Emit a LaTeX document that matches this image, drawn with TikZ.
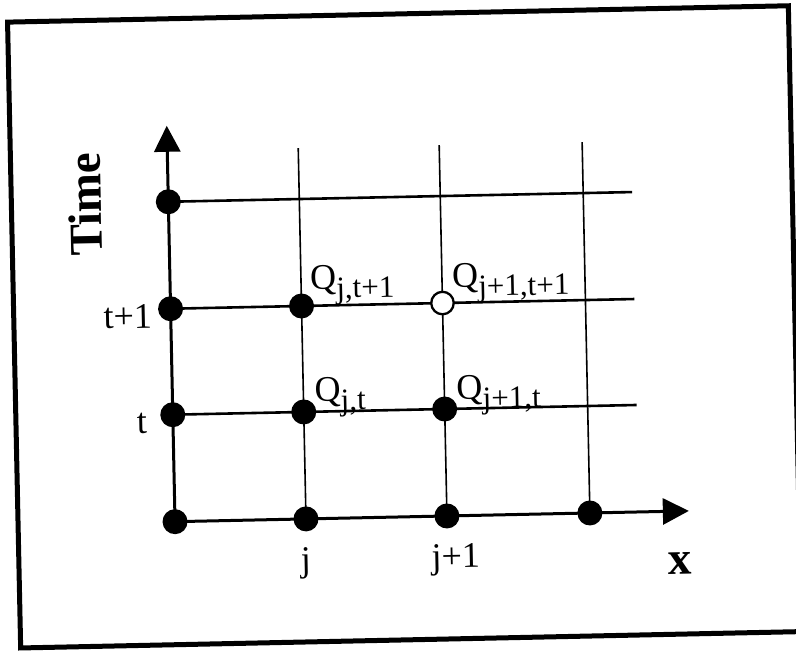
\documentclass[tikz,border=0pt]{standalone}
\usepackage{fontspec}
\setmainfont{Liberation Serif}
\usetikzlibrary{arrows.meta}
\newcommand{\qsub}[1]{\raisebox{-9pt}{\fontsize{31}{34}\selectfont #1}}

\begin{document}
\begin{tikzpicture}[x=1pt,y=1pt,
    dot/.style={circle,fill=black,inner sep=0pt,minimum size=25pt},
    opendot/.style={circle,draw=black,line width=2.3pt,fill=white,inner sep=0pt,minimum size=22.5pt},
    gridline/.style={line width=1.6pt},
    rowline/.style={line width=2.6pt},
    axisline/.style={line width=3pt,-{Triangle[length=26pt,width=26pt]}},
    lbl/.style={font=\fontsize{36}{40}\selectfont,inner sep=0pt},
    biglbl/.style={font=\fontsize{47}{52}\selectfont\bfseries,inner sep=0pt}]
  \useasboundingbox[fill=white] (0,0) rectangle (796,-653);
  \begin{scope}[rotate around={1.2:(398,-326.5)},transform shape]
  % Frame
  \draw[line width=5pt] (14,-14) rectangle (795,-640);
  % Grid points
  \foreach \i/\x in {0/171,1/302,2/443,3/586}
    \foreach \k/\y in {0/-517,1/-410,2/-304,3/-197}
      \coordinate (p\i\k) at (\x,\y);
  \coordinate (xend) at (685,-517);
  \coordinate (tend) at (171,-121);
  \coordinate (e1) at (635,-410);
  \coordinate (e2) at (635,-304);
  \coordinate (e3) at (635,-197);
  \coordinate (top1) at (302,-146);
  \coordinate (top2) at (443,-146);
  \coordinate (top3) at (586,-146);
  % Lines
  \draw[gridline] (p10) -- (top1);
  \draw[gridline] (p20) -- (top2);
  \draw[gridline] (p30) -- (top3);
  \draw[rowline] (p01) -- (e1);
  \draw[rowline] (p02) -- (e2);
  \draw[rowline] (p03) -- (e3);
  \draw[axisline] (p00) -- (xend);
  \draw[axisline] (p00) -- (tend);
  % Dots
  \node[dot] (d00) at (p00) {};
  \node[dot] (d01) at (p01) {};
  \node[dot] (d02) at (p02) {};
  \node[dot] (d03) at (p03) {};
  \node[dot] (d10) at (p10) {};
  \node[dot] (d11) at (p11) {};
  \node[dot] (d12) at (p12) {};
  \node[dot] (d20) at (p20) {};
  \node[dot] (d21) at (p21) {};
  \node[opendot] (d22) at (p22) {};
  \node[dot] (d30) at (p30) {};
  % Labels
  \node[biglbl,rotate=90] (timelbl) at (88,-198) {Time};
  \node[biglbl] (xlbl) at (675,-569) {x};
  \node[lbl] (jlbl) at (301,-561) {j};
  \node[lbl] (j1lbl) at (451,-561) {j+1};
  \node[lbl] (t1lbl) at (128,-311) {t+1};
  \node[lbl] (tlbl) at (140,-418) {t};
  \node[lbl,anchor=base west] (q11) at (311,-288) {Q\qsub{j,t+1}};
  \node[lbl,anchor=base west] (q21) at (453,-289) {Q\qsub{j+1,t+1}};
  \node[lbl,anchor=base west] (q10) at (313,-400) {Q\qsub{j,t}};
  \node[lbl,anchor=base west] (q20) at (455,-401) {Q\qsub{j+1,t}};
  \end{scope}
\end{tikzpicture}
\end{document}
